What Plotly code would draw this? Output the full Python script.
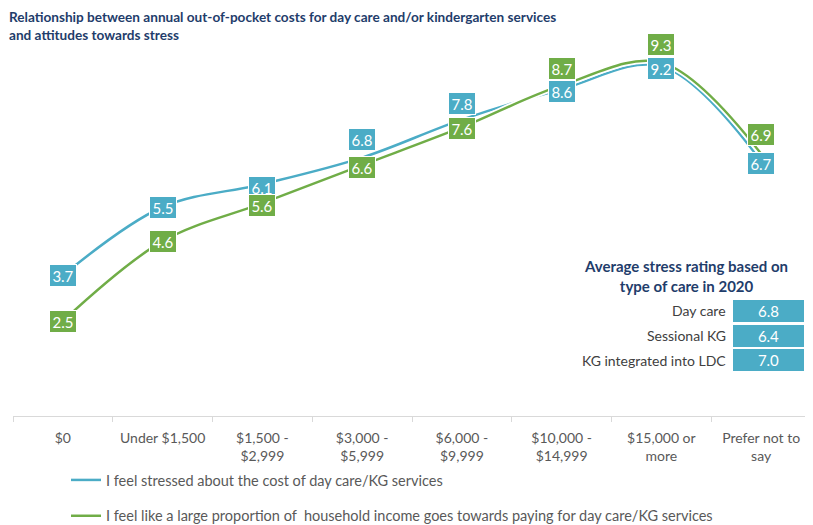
import plotly.graph_objects as go

categories = ["$0", "Under $1,500", "$1,500 -<br>$2,999", "$3,000 -<br>$5,999",
              "$6,000 -<br>$9,999", "$10,000 -<br>$14,999", "$15,000 or<br>more",
              "Prefer not to<br>say"]
stressed = [3.7, 5.5, 6.1, 6.8, 7.8, 8.6, 9.2, 6.7]
income_share = [2.5, 4.6, 5.6, 6.6, 7.6, 8.7, 9.3, 6.9]
series_names = ["I feel stressed about the cost of day care/KG services",
                "I feel like a large proportion of  household income goes towards paying for day care/KG services"]

care_types = ["Day care", "Sessional KG", "KG integrated into LDC"]
care_ratings = [6.8, 6.4, 7.0]

# label nudges (pixels) so overlapping labels don't collide
stressed_shift = [0, 0, -3, 18, 16, -2, -2, -2]
income_shift = [0, 0, -2, -2, -1, 17, 18, 19]

BLUE = "#4BACC6"
GREEN = "#70AD47"
NAVY = "#1F3D6B"
FONT = "Lato"

# page body has an 8px margin, so the figure is a bit smaller than the window
OFF = 8
W, H = 813 - OFF, 525 - OFF
# plot area, in window pixels
L, R, T, B = 13, 811, 36, 416


def px_to_paper(x, y):
    return (x - L) / (R - L), (B - y) / (B - T)


fig = go.Figure()
for vals, color, name in [(stressed, BLUE, series_names[0]), (income_share, GREEN, series_names[1])]:
    fig.add_trace(go.Scatter(x=categories, y=vals, mode="lines", showlegend=False,
                             line=dict(color="white", width=6, shape="spline", smoothing=1),
                             hoverinfo="skip"))
    fig.add_trace(go.Scatter(x=categories, y=vals, mode="lines", name=name, legendgroup=name,
                             line=dict(color=color, width=2.5, shape="spline", smoothing=1)))

# data labels
for vals, shifts, color in [(stressed, stressed_shift, BLUE), (income_share, income_shift, GREEN)]:
    for c, v, s in zip(categories, vals, shifts):
        fig.add_annotation(x=c, y=v, text=f"{v:.1f}", showarrow=False, yshift=s,
                           xanchor="center", yanchor="middle",
                           bgcolor=color, bordercolor="white", borderwidth=1, borderpad=1,
                           width=24, height=19,
                           font=dict(family=FONT, size=15, color="white"))

# chart title
tx, ty = px_to_paper(8, 8)
fig.add_annotation(xref="paper", yref="paper", x=tx, y=ty, xanchor="left", yanchor="top",
                   showarrow=False, align="left", borderpad=0,
                   text="<b>Relationship between annual out-of-pocket costs for day care and/or kindergarten services<br>and attitudes towards stress</b>",
                   font=dict(family=FONT, size=13.6, color=NAVY))

# inset table
tx, ty = px_to_paper(686, 276)
fig.add_annotation(xref="paper", yref="paper", x=tx, y=ty, xanchor="center", yanchor="middle",
                   showarrow=False,
                   text="<b>Average stress rating based on<br>type of care in 2020</b>",
                   font=dict(family=FONT, size=15, color=NAVY), align="center")
for i, (lab, val) in enumerate(zip(care_types, care_ratings)):
    cy = 311 + i * 24.5
    lx, ly = px_to_paper(728, cy)
    fig.add_annotation(xref="paper", yref="paper", x=lx, y=ly, xanchor="right", yanchor="middle",
                       showarrow=False, text=lab,
                       font=dict(family=FONT, size=14, color="#404040"))
    vx, vy = px_to_paper(768.5, cy)
    fig.add_annotation(xref="paper", yref="paper", x=vx, y=vy, xanchor="center", yanchor="middle",
                       showarrow=False, text=f"{val:.1f}", bgcolor=BLUE, bordercolor="white",
                       borderwidth=1, borderpad=0, width=71, height=22,
                       font=dict(family=FONT, size=15, color="white"))

fig.update_layout(
    width=W, height=H,
    margin=dict(l=L - OFF, r=W - (R - OFF), t=T - OFF, b=H - (B - OFF), autoexpand=False),
    plot_bgcolor="white", paper_bgcolor="white",
    font=dict(family=FONT, size=14, color="#595959"),
    xaxis=dict(type="category", range=[-0.5, 7.5], showgrid=False, showline=True,
               linecolor="#D9D9D9", linewidth=1, ticks="outside", tickson="boundaries",
               ticklen=5, tickcolor="#D9D9D9", ticklabelstandoff=9,
               tickfont=dict(size=14, color="#595959")),
    yaxis=dict(range=[0, 10], visible=False),
    legend=dict(x=(66 - OFF) / W, xref="container", xanchor="left", y=1 - (464 - OFF) / H,
                yref="container", yanchor="top", tracegroupgap=14,
                font=dict(size=14.5, color="#595959"), itemwidth=30),
    showlegend=True,
)

fig.write_html("out.html")
